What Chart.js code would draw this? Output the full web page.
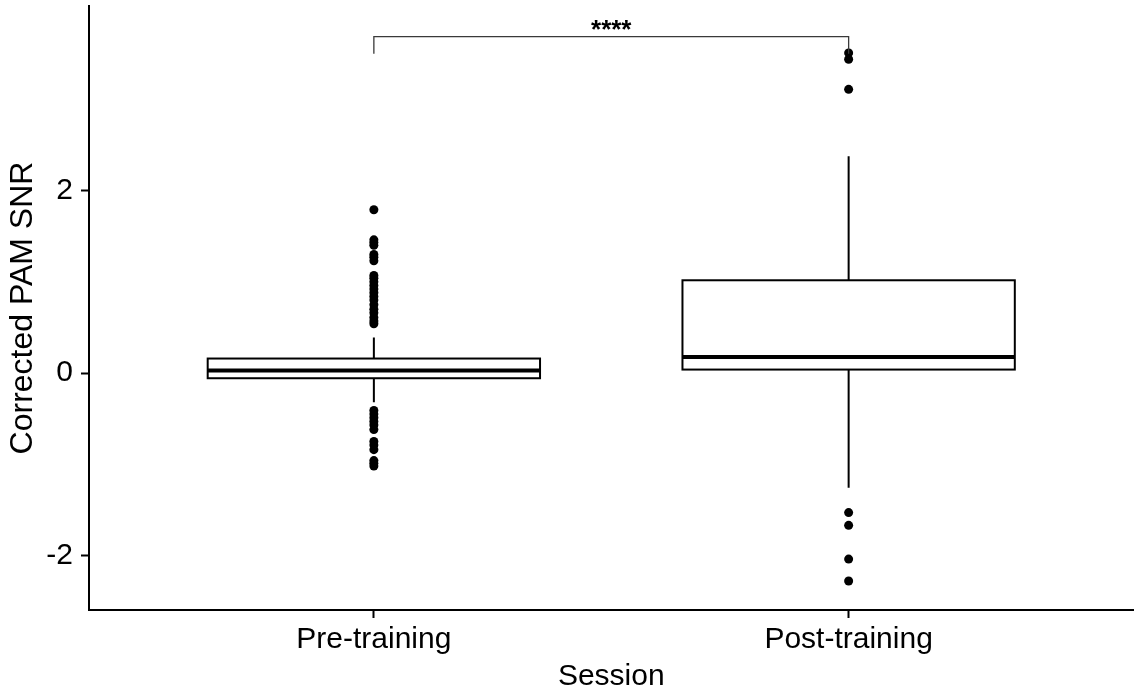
<!DOCTYPE html>
<html>
<head>
<meta charset="utf-8">
<script src="https://cdn.jsdelivr.net/npm/chart.js@4.4.1/dist/chart.umd.min.js"></script>
<style>
  html, body { margin: 0; padding: 0; background: #ffffff; }
  #wrap { width: 1138px; height: 696px; position: relative; }
</style>
</head>
<body>
<div id="wrap"><canvas id="c" width="1138" height="696"></canvas></div>
<script>
// ---- data ----
const categories = ['Pre-training', 'Post-training'];
const categoryPositions = [1, 2];
const q1Values = [-0.057, 0.038];
const medianValues = [0.027, 0.177];
const q3Values = [0.159, 1.017];
const whiskerLowValues = [-0.32, -1.258];
const whiskerHighValues = [0.39, 2.376];
const outliersPre = [1.79, 1.46, 1.43, 1.40, 1.30, 1.27, 1.23, 1.07, 1.04, 1.00, 0.96, 0.92, 0.88, 0.84, 0.80, 0.75, 0.70, 0.66, 0.61, 0.57, 0.54,
                     -0.41, -0.45, -0.49, -0.53, -0.57, -0.62, -0.75, -0.79, -0.84, -0.96, -0.99, -1.02];
const outliersPost = [3.51, 3.44, 3.11, -1.53, -1.67, -2.04, -2.28];
const yTickValues = [-2, 0, 2];
const bracketY = 3.688;
const bracketTipY = 3.50;
const bracketLabel = '****';
const xTitle = 'Session';
const yTitle = 'Corrected PAM SNR';

const FONT = '"Liberation Sans", Arial, Helvetica, sans-serif';

const outlierPoints = [];
outliersPre.forEach(v => outlierPoints.push({x: categoryPositions[0], y: v}));
outliersPost.forEach(v => outlierPoints.push({x: categoryPositions[1], y: v}));

const boxHalfWidth = 0.35;

const boxPlugin = {
  id: 'boxes',
  beforeDatasetsDraw(chart) {
    const {ctx, scales: {x, y}} = chart;
    ctx.save();
    for (let i = 0; i < categories.length; i++) {
      const cx = x.getPixelForValue(categoryPositions[i]);
      const l = x.getPixelForValue(categoryPositions[i] - boxHalfWidth);
      const r = x.getPixelForValue(categoryPositions[i] + boxHalfWidth);
      const yq1 = y.getPixelForValue(q1Values[i]);
      const yq3 = y.getPixelForValue(q3Values[i]);
      const ymed = y.getPixelForValue(medianValues[i]);
      const ylo = y.getPixelForValue(whiskerLowValues[i]);
      const yhi = y.getPixelForValue(whiskerHighValues[i]);
      ctx.strokeStyle = '#000';
      ctx.lineWidth = 2;
      ctx.beginPath();
      ctx.moveTo(cx, yq3); ctx.lineTo(cx, yhi);
      ctx.moveTo(cx, yq1); ctx.lineTo(cx, ylo);
      ctx.stroke();
      ctx.fillStyle = '#fff';
      ctx.fillRect(l, yq3, r - l, yq1 - yq3);
      ctx.strokeRect(l, yq3, r - l, yq1 - yq3);
      ctx.lineWidth = 4;
      ctx.beginPath();
      ctx.moveTo(l, ymed); ctx.lineTo(r, ymed);
      ctx.stroke();
    }
    ctx.restore();
  },
  afterDatasetsDraw(chart) {
    const {ctx, scales: {x, y}} = chart;
    const x1 = x.getPixelForValue(categoryPositions[0]);
    const x2 = x.getPixelForValue(categoryPositions[1]);
    const yb = y.getPixelForValue(bracketY);
    const yt = y.getPixelForValue(bracketTipY);
    ctx.save();
    ctx.strokeStyle = '#3a3a3a';
    ctx.lineWidth = 1.3;
    ctx.beginPath();
    ctx.moveTo(x1, yt); ctx.lineTo(x1, yb); ctx.lineTo(x2, yb); ctx.lineTo(x2, yt);
    ctx.stroke();
    ctx.fillStyle = '#000';
    ctx.font = 'bold 26px ' + FONT;
    ctx.textAlign = 'center';
    ctx.textBaseline = 'alphabetic';
    ctx.fillText(bracketLabel, (x1 + x2) / 2, yb + 1);
    ctx.restore();
  }
};

new Chart(document.getElementById('c'), {
  type: 'scatter',
  data: {
    datasets: [{
      data: outlierPoints,
      pointRadius: 4.5,
      pointBackgroundColor: '#000',
      pointBorderColor: '#000',
      pointBorderWidth: 0,
      pointHoverRadius: 4.5
    }]
  },
  options: {
    responsive: false,
    animation: false,
    events: [],
    layout: { padding: { top: 6, right: 4, left: 0, bottom: 0 } },
    plugins: { legend: { display: false }, tooltip: { enabled: false } },
    scales: {
      x: {
        type: 'linear',
        min: 0.4,
        max: 2.6,
        afterBuildTicks(scale) { scale.ticks = categoryPositions.map(v => ({value: v})); },
        afterFit(scale) { scale.height = 86; scale.paddingLeft = 0; scale.paddingRight = 0; },
        ticks: {
          callback: (v) => categories[categoryPositions.indexOf(v)],
          color: '#000',
          font: { family: FONT, size: 30 },
          padding: 4,
          maxRotation: 0,
          autoSkip: false
        },
        grid: { drawOnChartArea: false, drawTicks: true, tickLength: 8, color: '#000', tickWidth: 2 },
        border: { display: true, color: '#000', width: 2 },
        title: { display: true, text: xTitle, color: '#000', font: { family: FONT, size: 30 }, padding: { top: 0, bottom: 1 } }
      },
      y: {
        min: -2.598,
        max: 4.024,
        afterBuildTicks(scale) { scale.ticks = yTickValues.map(v => ({value: v})); },
        afterFit(scale) { scale.width = 89; scale.paddingTop = 0; scale.paddingBottom = 0; },
        ticks: {
          color: '#000',
          font: { family: FONT, size: 30 },
          padding: 8
        },
        grid: { drawOnChartArea: false, drawTicks: true, tickLength: 8, color: '#000', tickWidth: 2 },
        border: { display: true, color: '#000', width: 2 },
        title: { display: true, text: yTitle, color: '#000', font: { family: FONT, size: 32 }, padding: { top: 4, bottom: 0 } }
      }
    }
  },
  plugins: [boxPlugin]
});
</script>
</body>
</html>
